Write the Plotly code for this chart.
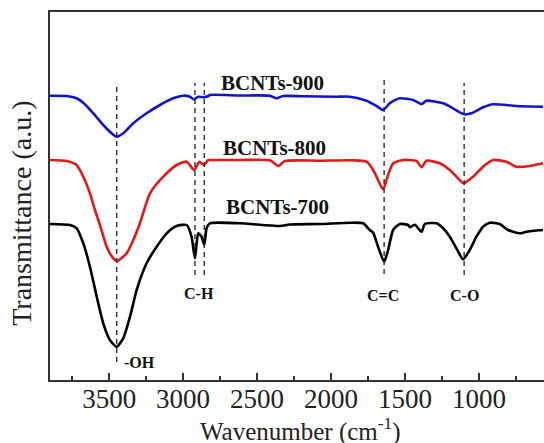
import plotly.graph_objects as go

# ---- data (wavenumber in cm^-1, transmittance in arbitrary offset units) ----
wn_900 = [3900, 3787, 3720, 3675, 3607, 3540, 3483, 3449, 3405, 3337, 3247, 3157, 3067, 2999, 2954, 2927,
          2898, 2859, 2830, 2819, 2616, 2413, 2368, 2324, 2189, 1963, 1873, 1760, 1692, 1648, 1603, 1535,
          1445, 1388, 1355, 1242, 1175, 1130, 1096, 1051, 972, 905, 747, 567]
t_900 = [284.3, 284, 281.7, 277.3, 266.7, 255, 246.7, 243.3, 246.7, 256.7, 266.7, 275, 281.7, 284.3, 283.3, 280.7,
         283.3, 282.7, 284, 285, 284.5, 284.3, 281.7, 284, 283.7, 283.3, 283.3, 279.3, 274, 270, 276.7, 281.7,
         280, 276, 279.3, 276.7, 271.7, 267.7, 265.7, 266.7, 272.7, 275.7, 274, 273.3]

wn_800 = [3900, 3787, 3720, 3675, 3630, 3596, 3562, 3517, 3472, 3445, 3382, 3337, 3292, 3224, 3134, 3044,
          2976, 2925, 2891, 2859, 2830, 2819, 2616, 2413, 2357, 2312, 2076, 1853, 1760, 1715, 1682, 1648,
          1614, 1580, 1513, 1422, 1388, 1355, 1265, 1197, 1141, 1103, 1040, 972, 905, 814, 747, 657, 567]
t_800 = [220, 219, 215, 203.3, 186.7, 170, 155, 133.3, 121.7, 119, 126.7, 140, 156.7, 186.7, 203.3, 215,
         218.3, 210, 218.3, 215, 220, 220, 220, 219.7, 214, 219, 219.3, 219.7, 218.3, 210, 200, 190.7,
         205, 216.7, 220, 219, 212.7, 219.3, 216.7, 210, 201.7, 196.7, 203.3, 213.3, 220, 218.3, 213.3, 214, 216.7]

wn_700 = [3900, 3765, 3720, 3675, 3630, 3584, 3540, 3495, 3449, 3405, 3359, 3314, 3247, 3179, 3111, 3044,
          2976, 2943, 2920, 2898, 2875, 2857, 2841, 2819, 2616, 2346, 2278, 2076, 1873, 1783, 1738, 1715,
          1682, 1641, 1614, 1580, 1535, 1479, 1467, 1434, 1388, 1366, 1287, 1242, 1197, 1152, 1107, 1062,
          1017, 972, 927, 859, 803, 724, 679, 567]
t_700 = [156, 155, 151.7, 136.7, 113.3, 83.3, 56.7, 40, 33.3, 41.7, 63.3, 90, 116.7, 133.3, 146.7, 154,
         155, 143.3, 121.7, 146.7, 143.3, 135, 152, 156.7, 156.7, 154, 155.5, 156, 157.3, 156.7, 150, 147.3,
         133.3, 118.3, 130, 150, 156, 155, 152.7, 155.3, 148.3, 156, 156.7, 151.7, 143.3, 131.7, 120.7, 130,
         143.3, 153.3, 157.3, 156, 150, 146.7, 148.3, 150]

series_names = ["BCNTs-900", "BCNTs-800", "BCNTs-700"]
series_colors = ["#1414c8", "#e01a1a", "#000000"]

# marker lines (peak assignments)
peak_wn = [3449, 2920, 2857, 1641, 1100]
peak_top = [295, 297, 297, 301, 297]
peak_bottom = [18, 105, 105, 106, 105]

# labels
label_text = ["BCNTs-900", "BCNTs-800", "BCNTs-700", "C-H", "C=C", "C-O", "-OH"]
label_wn = [2393, 2380, 2359, 2893, 1650, 1096, 3292]
label_t = [297, 232, 173, 87, 85, 85, 18]
label_size = [21, 21, 21, 16, 16, 16, 16]

tick_vals = [3500, 3000, 2500, 2000, 1500, 1000]
tick_text = ["3500", "3000", "2500", "2000", "1500", "1000"]
minor_vals = [3750, 3250, 2750, 2250, 1750, 1250, 750]

SERIF = "Liberation Serif, Times New Roman, serif"

fig = go.Figure()
for wn, t, name, col in zip([wn_900, wn_800, wn_700], [t_900, t_800, t_700], series_names, series_colors):
    fig.add_trace(go.Scatter(x=wn, y=t, mode="lines", name=name,
                             line=dict(color=col, width=2.6, shape="spline", smoothing=0.6),
                             showlegend=False))

for w, a, b in zip(peak_wn, peak_top, peak_bottom):
    fig.add_shape(type="line", x0=w, x1=w, y0=b, y1=a, xref="x", yref="y",
                  line=dict(color="#222222", width=1.3, dash="5px,4px"))

for txt, w, t, s in zip(label_text, label_wn, label_t, label_size):
    fig.add_annotation(x=w, y=t, text="<b>" + txt + "</b>", showarrow=False,
                       font=dict(family=SERIF, size=s, color="#111111"),
                       xanchor="center", yanchor="middle")

# axis titles
fig.add_annotation(xref="paper", yref="paper", x=0.508, y=-0.134,
                   text="Wavenumber (cm<sup>-1</sup>)", showarrow=False,
                   font=dict(family=SERIF, size=25, color="#222222"),
                   xanchor="center", yanchor="middle")
fig.add_annotation(xref="paper", yref="paper", x=-0.057, y=0.454,
                   text="Transmittance (a.u.)", showarrow=False, textangle=-90,
                   font=dict(family=SERIF, size=28, color="#222222"),
                   xanchor="center", yanchor="middle")

fig.update_layout(
    width=544, height=443, autosize=False,
    margin=dict(l=50, r=0, t=12, b=63),
    paper_bgcolor="white", plot_bgcolor="white",
    xaxis=dict(range=[3900, 560], tickvals=tick_vals, ticktext=tick_text,
               ticks="inside", ticklen=7, tickwidth=1.5, tickcolor="#333333",
               minor=dict(ticks="inside", ticklen=4, tickwidth=1.5, tickcolor="#333333",
                          tickvals=minor_vals),
               showline=True, linewidth=1.6, linecolor="#333333", mirror=True,
               showgrid=False, zeroline=False, ticklabelstandoff=-6,
               tickfont=dict(family=SERIF, size=27, color="#222222")),
    yaxis=dict(range=[0, 368], showticklabels=False, ticks="",
               showline=True, linewidth=1.6, linecolor="#333333", mirror=False,
               showgrid=False, zeroline=False),
)

fig.write_html("out.html")
